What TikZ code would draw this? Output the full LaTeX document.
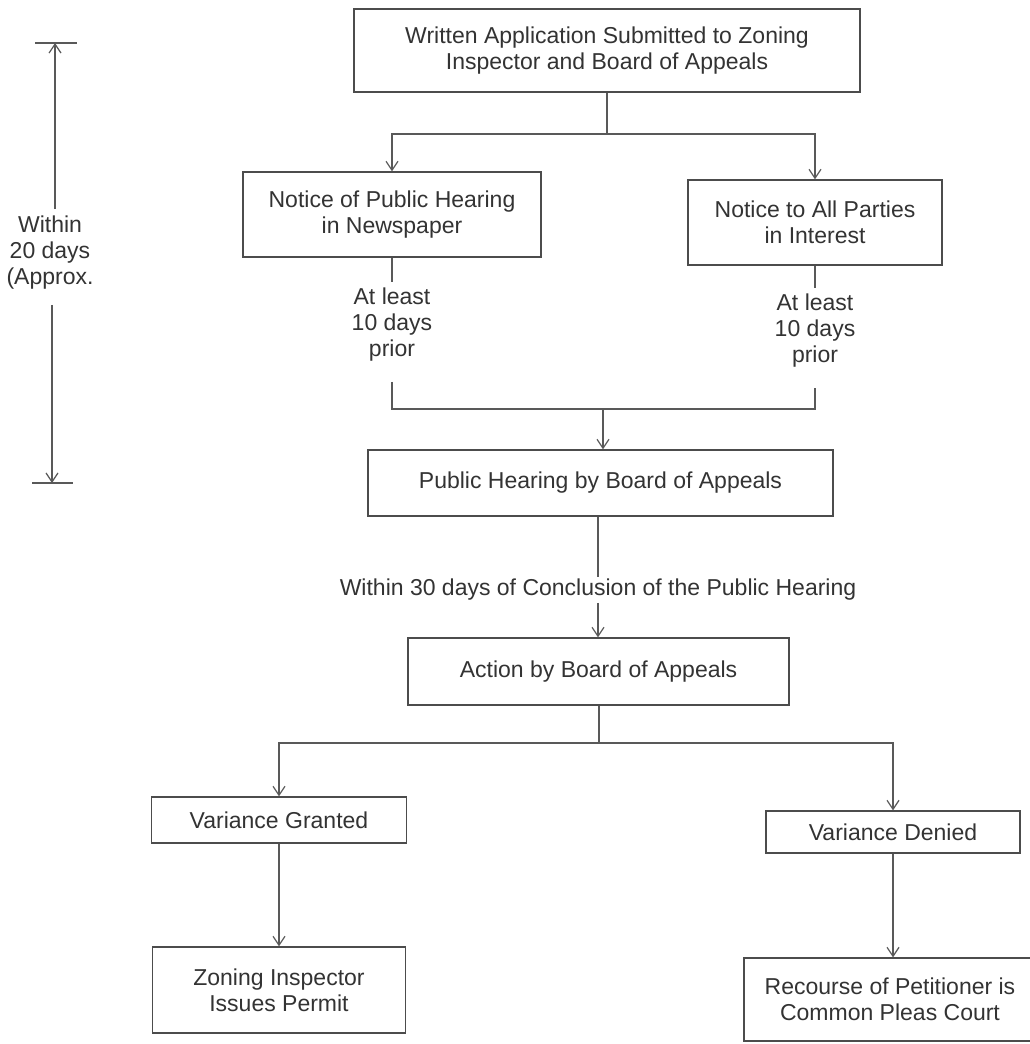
\documentclass[tikz,border=0pt]{standalone}
\usepackage{fontspec}
\setmainfont{Liberation Sans}
\usetikzlibrary{arrows.meta}
\tikzset{
	box/.style={draw=black!70, line width=1.3pt, align=center, text=black!80, inner sep=0pt},
	note/.style={align=center, text=black!80, inner sep=2pt},
	link/.style={draw=black!65, line width=1.2pt},
	arrow/.style={link, -{Straight Barb[length=9pt, width=12pt, line width=1.2pt]}}
}

\begin{document}
\begin{tikzpicture}[x=1pt, y=-1pt, font=\fontsize{23}{26}\selectfont]
			%%%%% START %%%%%
			\useasboundingbox[fill=white] (0,0) rectangle (1029,1044);
			
			\node[box, minimum width=506pt, minimum height=83pt] (app) at (607, 50.5) {Written Application Submitted to Zoning\\Inspector and Board of Appeals};
			\node[box, minimum width=298pt, minimum height=85pt] (newsp) at (392, 214.5) {Notice of Public Hearing\\in Newspaper};
			\node[box, minimum width=254pt, minimum height=85pt] (parties) at (815, 222.5) {Notice to All Parties\\in Interest};
			\node[box, minimum width=465pt, minimum height=66pt] (hearing) at (600.5, 483) {Public Hearing by Board of Appeals};
			\node[box, minimum width=381pt, minimum height=67pt] (action) at (598.5, 671.5) {Action by Board of Appeals};
			\node[box, minimum width=255pt, minimum height=46pt] (granted) at (279, 820) {Variance Granted};
			\node[box, minimum width=254pt, minimum height=42pt] (denied) at (893, 832) {Variance Denied};
			\node[box, minimum width=253pt, minimum height=86pt] (permit) at (279, 990) {Zoning Inspector\\Issues Permit};
			\node[box, minimum width=292pt, minimum height=83pt] (recourse) at (890, 999.5) {Recourse of Petitioner is\\Common Pleas Court};
			
			\node[note] (leastL) at (392, 325) {At least\\10 days\\prior};
			\node[note] (leastR) at (815, 331) {At least\\10 days\\prior};
			\node[note] (within30) at (598, 590) {Within 30 days of Conclusion of the Public Hearing};
			\node[note] (span) at (50, 253) {Within\\20 days\\(Approx.};
			
			\coordinate (s1) at (607, 134);
			\draw[link] (app.south -| s1) -- (s1);
			\draw[arrow] (s1) -| (newsp.north);
			\draw[arrow] (s1) -| (parties.north);
			
			\draw[link] (newsp.south) -- ([yshift=4pt]leastL.north);
			\draw[link] (parties.south) -- ([yshift=4pt]leastR.north);
			\coordinate (j1) at (603, 409);
			\draw[link] ([yshift=-18pt]leastL.south) |- (j1) -| ([yshift=-18pt]leastR.south);
			\draw[arrow] (j1) -- (j1 |- hearing.north);
			
			\draw[link] (hearing.south -| within30) -- (within30.north);
			\draw[arrow] (within30.south) -- (within30.south |- action.north);
			
			\coordinate (j2) at (599, 743);
			\draw[link] (action.south -| j2) -- (j2);
			\draw[arrow] (j2) -| (granted.north);
			\draw[arrow] (j2) -| (denied.north);
			\draw[arrow] (granted.south) -- (permit.north);
			\draw[arrow] (denied.south) -- (denied.south |- recourse.north);
			
			\coordinate (tickT) at (55, 43);
			\coordinate (tickB) at (52, 483);
			\draw[link] ([xshift=-20pt]tickT) -- ([xshift=22pt]tickT);
			\draw[link] ([xshift=-20pt]tickB) -- ([xshift=21pt]tickB);
			\draw[arrow] ([yshift=5pt]span.north -| tickT) -- (tickT);
			\draw[arrow] ([yshift=-13pt]span.south -| tickB) -- (tickB);
			
			%%%%% END %%%%%
		\end{tikzpicture}
\end{document}
